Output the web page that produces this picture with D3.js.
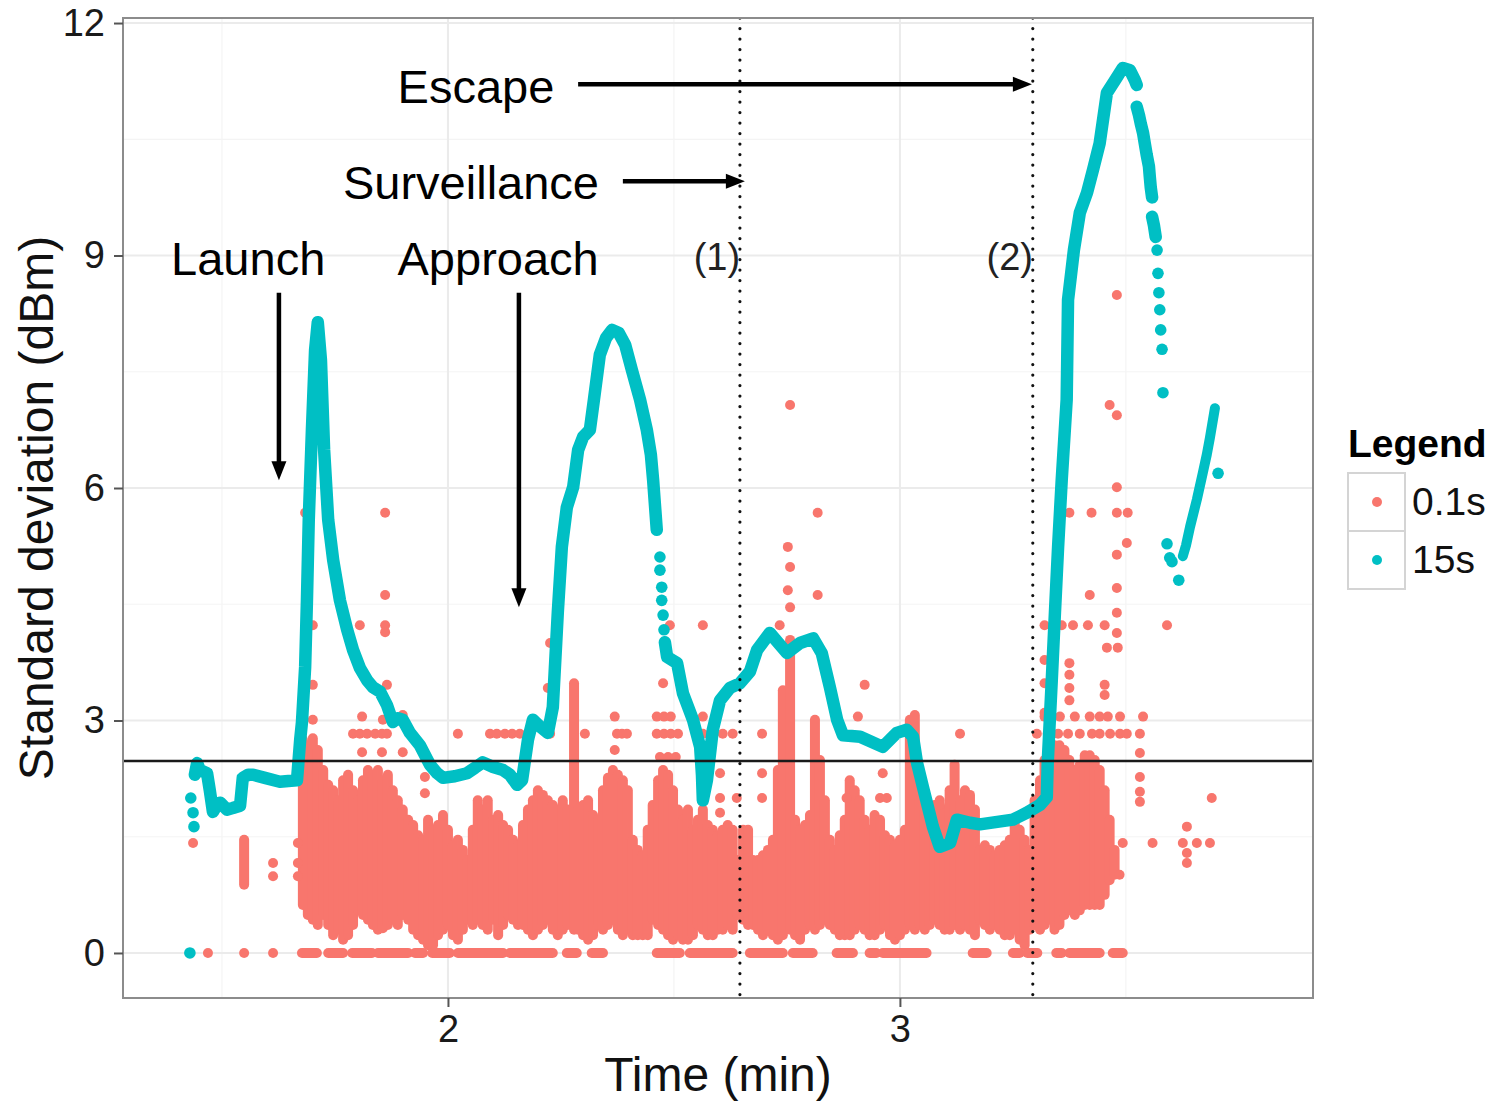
<!DOCTYPE html>
<html>
<head>
<meta charset="utf-8">
<script src="https://cdn.jsdelivr.net/npm/d3@7"></script>
<style>
body { margin: 0; background: #fff; }
svg { font-family: "Liberation Sans", Arial, Helvetica, sans-serif; }
</style>
</head>
<body>
<svg id="chart" width="1495" height="1103"></svg>
<script>
// ---- data (time in min, std dev in dBm) ----
var xTicks = [2, 3];
var xMinor = [1.5, 2.5, 3.5];
var yTicks = [0, 3, 6, 9, 12];
var yMinor = [1.5, 4.5, 7.5, 10.5];

var seriesNames = ["0.1s", "15s"];

// 15s window: continuous runs, null = break
var tealLine = [
[1.440,2.30],[1.445,2.45],[1.451,2.36],[1.467,2.32],[1.473,2.10],[1.480,1.82],[1.489,1.91],[1.496,1.94],
[1.511,1.85],[1.524,1.87],[1.540,1.90],[1.546,2.26],[1.558,2.30],[1.569,2.30],[1.595,2.26],[1.628,2.21],
[1.666,2.23],[1.673,2.75],[1.677,2.98],[1.684,3.69],[1.688,4.55],[1.692,5.59],[1.699,6.75],[1.706,7.78],
[1.712,8.14],[1.719,7.65],[1.726,6.49],[1.735,5.59],[1.746,5.07],[1.761,4.55],[1.777,4.17],[1.790,3.91],
[1.805,3.68],[1.821,3.52],[1.834,3.43],[1.850,3.37],[1.865,3.20],[1.878,2.98],[1.889,3.03],[1.900,3.01],
[1.916,2.84],[1.938,2.68],[1.960,2.43],[1.976,2.32],[1.989,2.26],[2.015,2.28],[2.042,2.32],[2.060,2.39],
[2.077,2.46],[2.100,2.40],[2.122,2.36],[2.137,2.30],[2.153,2.17],[2.164,2.23],[2.177,2.75],[2.188,3.01],
[2.204,2.92],[2.221,2.84],[2.232,3.17],[2.243,4.39],[2.252,5.24],[2.263,5.75],[2.277,6.01],[2.288,6.49],
[2.299,6.66],[2.314,6.75],[2.323,7.14],[2.336,7.72],[2.350,7.94],[2.363,8.04],[2.378,8.00],[2.392,7.85],
[2.407,7.52],[2.425,7.14],[2.440,6.75],[2.449,6.43],[2.454,6.10],[2.462,5.46],
null,
[2.480,4.01],[2.485,3.82],[2.507,3.74],[2.520,3.35],[2.542,3.01],[2.558,2.66],[2.562,2.30],[2.564,1.97],
[2.573,2.23],[2.586,2.88],[2.602,3.26],[2.624,3.42],[2.646,3.48],[2.668,3.63],[2.684,3.91],[2.712,4.13],
[2.750,3.87],[2.779,4.00],[2.808,4.06],[2.827,3.87],[2.845,3.43],[2.861,3.01],[2.874,2.81],[2.912,2.79],
[2.962,2.66],[2.993,2.84],[3.015,2.88],[3.029,2.79],[3.038,2.45],[3.051,2.14],[3.073,1.63],[3.088,1.37],
[3.111,1.42],[3.126,1.72],[3.155,1.68],[3.177,1.66],[3.250,1.72],[3.281,1.81],[3.310,1.91],[3.325,2.01],
[3.327,2.45],[3.336,3.52],[3.343,4.39],[3.350,5.24],[3.358,6.10],[3.369,7.14],[3.372,8.43],[3.385,9.07],
[3.398,9.55],[3.414,9.81],[3.427,10.10],[3.442,10.45],[3.458,11.10],[3.480,11.30],[3.493,11.42],[3.509,11.39],
[3.520,11.26],[3.524,11.20],
null,
[3.524,10.92],[3.529,10.81],[3.533,10.70],[3.538,10.58],[3.542,10.44],[3.546,10.30],[3.551,10.15],[3.553,10.01],
[3.555,9.88],[3.558,9.75],
null,
[3.558,9.50],[3.562,9.39],[3.566,9.24]
];

var tealTail = [[3.626,5.12],[3.633,5.26],[3.642,5.50],[3.657,5.85],[3.670,6.19],[3.679,6.43],[3.686,6.65],[3.697,7.03]];

var tealDots = [
[1.429,0.00],[1.431,2.00],[1.436,1.81],[1.438,1.63],
[2.469,5.11],[2.469,4.94],[2.473,4.72],[2.473,4.55],[2.476,4.36],[2.478,4.17],
[3.569,9.07],[3.571,8.77],[3.573,8.52],[3.575,8.30],[3.577,8.04],[3.580,7.79],[3.582,7.23],
[3.591,5.28],[3.597,5.10],[3.602,5.05],[3.617,4.81],[3.704,6.19]
];

// 0.1s window: dense cloud as [time, low, high]
var redColumns = [
[1.549,0.88,1.46],[1.679,0.62,2.75],[1.690,0.49,2.68],[1.701,0.43,2.77],[1.712,0.36,2.62],[1.724,0.49,2.36],
[1.735,0.36,2.17],[1.746,0.23,2.10],[1.757,0.30,1.97],[1.768,0.17,2.23],[1.779,0.23,2.30],[1.790,0.36,2.10],
[1.801,0.55,1.97],[1.812,0.49,2.23],[1.823,0.43,2.36],[1.834,0.36,2.30],[1.845,0.30,2.36],[1.856,0.32,2.23],
[1.867,0.36,2.30],[1.878,0.43,2.10],[1.889,0.36,1.97],[1.900,0.49,1.85],[1.912,0.43,1.72],[1.923,0.30,1.65],
[1.934,0.23,1.52],[1.945,0.17,1.46],[1.956,0.10,1.72],[1.967,0.10,1.59],[1.978,0.23,1.65],[1.989,0.30,1.78],
[2.000,0.36,1.59],[2.011,0.23,1.39],[2.022,0.17,1.46],[2.033,0.30,1.33],[2.044,0.43,1.20],[2.055,0.36,1.59],
[2.066,0.43,1.97],[2.077,0.36,1.85],[2.088,0.30,1.97],[2.100,0.43,1.72],[2.111,0.23,1.78],[2.122,0.36,1.65],
[2.133,0.49,1.59],[2.144,0.43,1.46],[2.155,0.36,1.39],[2.166,0.36,1.65],[2.177,0.30,1.85],[2.188,0.23,1.97],
[2.199,0.30,2.10],[2.210,0.36,2.04],[2.221,0.43,1.97],[2.232,0.30,1.91],[2.243,0.23,1.85],[2.254,0.30,1.97],
[2.265,0.36,1.85],[2.279,0.30,3.48],[2.288,0.30,1.85],[2.299,0.23,1.91],[2.310,0.17,1.97],[2.321,0.23,1.78],
[2.332,0.36,1.72],[2.343,0.30,2.10],[2.354,0.36,2.26],[2.365,0.43,2.36],[2.376,0.30,2.30],[2.387,0.23,2.23],
[2.398,0.30,2.10],[2.409,0.23,1.46],[2.420,0.23,1.33],[2.431,0.23,1.26],[2.442,0.23,1.59],[2.453,0.43,1.91],
[2.465,0.36,2.23],[2.476,0.30,2.36],[2.487,0.23,2.30],[2.498,0.17,2.10],[2.509,0.23,1.85],[2.520,0.17,1.72],
[2.531,0.17,1.85],[2.542,0.23,1.59],[2.553,0.36,1.72],[2.564,0.30,1.85],[2.575,0.23,1.65],[2.586,0.23,1.59],
[2.597,0.30,1.52],[2.608,0.30,1.59],[2.619,0.36,1.65],[2.630,0.30,1.59],[2.641,0.49,1.20],[2.653,0.43,1.59],
[2.664,0.36,1.59],[2.675,0.36,1.20],[2.686,0.30,1.20],[2.697,0.23,1.26],[2.708,0.30,1.33],[2.719,0.23,1.46],
[2.730,0.17,2.36],[2.741,0.23,3.39],[2.757,0.30,4.04],[2.768,0.23,1.72],[2.779,0.17,1.59],[2.790,0.30,1.65],
[2.801,0.36,1.78],[2.812,0.30,3.01],[2.823,0.36,2.49],[2.834,0.43,1.97],[2.845,0.36,1.46],[2.856,0.30,1.33],
[2.867,0.23,1.52],[2.878,0.23,1.72],[2.889,0.23,2.23],[2.900,0.30,2.10],[2.911,0.36,1.97],[2.922,0.30,1.72],
[2.933,0.23,1.59],[2.944,0.23,1.78],[2.956,0.30,1.72],[2.967,0.36,1.52],[2.978,0.23,1.46],[2.989,0.17,1.39],
[3.000,0.23,1.46],[3.011,0.30,1.59],[3.022,0.36,3.01],[3.033,0.30,3.07],[3.044,0.36,1.97],[3.055,0.30,1.85],
[3.066,0.36,1.78],[3.077,0.43,1.91],[3.088,0.36,1.97],[3.099,0.30,1.85],[3.110,0.30,2.10],[3.121,0.36,2.43],
[3.133,0.30,1.97],[3.144,0.36,2.10],[3.155,0.30,2.04],[3.166,0.23,1.85],[3.177,0.43,1.33],[3.188,0.36,1.39],
[3.199,0.30,1.33],[3.210,0.36,1.26],[3.221,0.30,1.33],[3.232,0.23,1.39],[3.243,0.23,1.46],[3.254,0.30,1.72],
[3.265,0.17,1.59],[3.276,0.10,1.46],[3.287,0.30,1.33],[3.298,0.36,1.97],[3.310,0.30,2.23],[3.320,0.36,2.49],
[3.331,0.43,2.55],[3.342,0.30,2.68],[3.353,0.36,2.68],[3.364,0.49,2.62],[3.375,0.55,2.49],[3.387,0.49,2.36],
[3.398,0.55,2.43],[3.409,0.62,2.55],[3.420,0.62,2.55],[3.431,0.62,2.49],[3.442,0.62,2.36],[3.453,0.75,2.10],
[3.464,0.94,1.72],[3.475,1.01,1.33]
];

// 0.1s window: runs of zero values [start, end]
var redZeroRuns = [
[1.469,1.469],[1.549,1.549],[1.613,1.613],[1.677,1.710],[1.735,1.768],[1.788,1.832],[1.845,1.912],
[1.927,1.945],[1.965,2.004],[2.022,2.122],[2.137,2.232],[2.263,2.285],[2.318,2.343],[2.462,2.513],
[2.535,2.630],[2.668,2.741],[2.763,2.807],[2.860,2.896],[2.933,2.948],[2.962,3.059],[3.161,3.192],
[3.250,3.265],[3.282,3.304],[3.346,3.358],[3.375,3.442],[3.471,3.493]
];

// 0.1s window: scattered points
var redPoints = [
[1.436,1.42],[1.613,1.16],[1.613,0.99],[1.668,1.42],[1.668,1.16],[1.668,0.99],
[1.684,5.68],[1.861,5.68],[1.690,4.62],[1.861,4.62],[1.701,4.23],[1.805,4.23],[1.861,4.23],[1.861,4.14],
[1.701,3.46],[1.865,3.46],[1.701,3.01],[1.810,3.05],[1.856,3.01],[1.900,3.07],
[1.790,2.83],[1.805,2.83],[1.821,2.83],[1.839,2.83],[1.854,2.83],[1.865,2.83],[2.022,2.83],
[2.093,2.83],[2.108,2.83],[2.126,2.83],[2.142,2.83],[2.159,2.83],
[1.810,2.59],[1.854,2.59],[1.900,2.59],[1.949,2.27],[1.949,2.06],
[2.226,4.00],[2.221,3.42],[2.491,4.23],[2.564,4.23],[2.476,3.48],[2.369,3.05],[2.369,2.62],
[2.226,2.83],[2.303,2.83],[2.374,2.83],[2.385,2.83],[2.396,2.83],
[2.462,3.05],[2.478,3.05],[2.493,3.05],[2.462,2.83],[2.478,2.83],[2.493,2.83],[2.509,2.83],
[2.469,2.53],[2.487,2.53],[2.504,2.53],
[2.564,3.05],[2.564,2.83],[2.586,2.83],[2.608,2.83],[2.630,2.83],
[2.602,2.32],[2.602,2.00],[2.639,2.00],[2.602,1.81],
[2.757,7.07],[2.818,5.68],[2.752,5.24],[2.757,4.98],[2.752,4.68],[2.757,4.46],[2.818,4.62],[2.734,4.23],
[2.922,3.46],[2.907,3.05],[3.133,2.83],[2.695,2.83],[2.695,2.32],[2.695,2.00],
[3.088,1.91],[2.962,2.32],[2.956,2.00],[2.971,2.00],[2.882,2.00],
[3.480,6.01],[3.375,5.68],[3.424,5.68],[3.480,5.68],[3.504,5.68],[3.502,5.29],[3.480,5.14],[3.480,4.71],
[3.420,4.62],[3.480,4.39],[3.480,4.13],[3.458,3.94],[3.482,3.94],
[3.320,4.23],[3.358,4.23],[3.383,4.23],[3.416,4.23],[3.453,4.23],[3.591,4.23],
[3.320,3.78],[3.375,3.74],[3.375,3.59],[3.375,3.42],[3.375,3.26],[3.320,3.48],[3.453,3.46],[3.453,3.33],[3.320,3.10],
[3.320,3.05],[3.354,3.05],[3.387,3.05],[3.420,3.05],[3.442,3.05],[3.460,3.05],[3.487,3.05],[3.538,3.05],
[3.303,2.83],[3.327,2.83],[3.350,2.83],[3.372,2.83],[3.398,2.83],[3.425,2.83],[3.442,2.83],[3.465,2.83],
[3.487,2.83],[3.502,2.83],[3.531,2.83],
[3.531,2.58],[3.531,2.27],[3.531,2.08],[3.531,1.95],
[3.690,2.00],[3.635,1.63],[3.559,1.42],[3.626,1.42],[3.657,1.42],[3.686,1.42],[3.635,1.29],[3.635,1.16],
[3.493,1.42],[3.486,1.01],
[3.480,8.49],[3.464,7.07],[3.480,6.94]
];

// reference lines
var threshold = 2.477;
var phaseLines = [2.646, 3.294];
var phaseLabels = ["(1)", "(2)"];

// annotations: label, x, y (data units)
var annoText = ["Escape", "Surveillance", "Launch", "Approach"];
var annoX = [2.062, 2.051, 1.558, 2.111];
var annoY = [10.97, 9.73, 8.75, 8.75];
// arrows: [x1, y1, x2, y2] in data units
var arrows = [
[2.288, 11.21, 3.292, 11.21],
[2.387, 9.96, 2.657, 9.96],
[1.626, 8.52, 1.626, 6.10],
[2.157, 8.52, 2.157, 4.46]
];

// ---- drawing ----
var red = "#F8766D", teal = "#00BFC4";
var pLeft = 123, pTop = 18, pRight = 1313, pBottom = 998;

var svg = d3.select("#chart");
var x = d3.scaleLinear().domain([1.281, 3.914]).range([pLeft, pRight]);
var y = d3.scaleLinear().domain([-0.581, 12.065]).range([pBottom, pTop]);

svg.append("defs").append("clipPath").attr("id", "clip")
  .append("rect").attr("x", pLeft).attr("y", pTop)
  .attr("width", pRight - pLeft).attr("height", pBottom - pTop);

// grid
var grid = svg.append("g");
grid.selectAll(".vmin").data(xMinor).join("line")
  .attr("x1", d => x(d)).attr("x2", d => x(d)).attr("y1", pTop).attr("y2", pBottom)
  .attr("stroke", "#f4f4f4").attr("stroke-width", 1.2);
grid.selectAll(".hmin").data(yMinor).join("line")
  .attr("x1", pLeft).attr("x2", pRight).attr("y1", d => y(d)).attr("y2", d => y(d))
  .attr("stroke", "#f4f4f4").attr("stroke-width", 1.2);
grid.selectAll(".vmaj").data(xTicks).join("line")
  .attr("x1", d => x(d)).attr("x2", d => x(d)).attr("y1", pTop).attr("y2", pBottom)
  .attr("stroke", "#ebebeb").attr("stroke-width", 2);
grid.selectAll(".hmaj").data(yTicks).join("line")
  .attr("x1", pLeft).attr("x2", pRight).attr("y1", d => y(d)).attr("y2", d => y(d))
  .attr("stroke", "#ebebeb").attr("stroke-width", 2);

var plot = svg.append("g").attr("clip-path", "url(#clip)");

// 0.1s points
plot.append("g").selectAll("line").data(redColumns).join("line")
  .attr("x1", d => x(d[0])).attr("x2", d => x(d[0]))
  .attr("y1", d => y(d[1])).attr("y2", d => y(d[2]))
  .attr("stroke", red).attr("stroke-width", 10).attr("stroke-linecap", "round");
plot.append("g").selectAll("line").data(redZeroRuns).join("line")
  .attr("x1", d => x(d[0])).attr("x2", d => x(d[1]))
  .attr("y1", y(0)).attr("y2", y(0))
  .attr("stroke", red).attr("stroke-width", 10).attr("stroke-linecap", "round");
plot.append("g").selectAll("circle").data(redPoints).join("circle")
  .attr("cx", d => x(d[0])).attr("cy", d => y(d[1])).attr("r", 5).attr("fill", red);

// 15s points
var line = d3.line().defined(d => d !== null).x(d => x(d[0])).y(d => y(d[1]));
plot.append("path").datum(tealLine).attr("d", line)
  .attr("fill", "none").attr("stroke", teal).attr("stroke-width", 12.5)
  .attr("stroke-linejoin", "round").attr("stroke-linecap", "round");
plot.append("path").datum(tealTail).attr("d", line)
  .attr("fill", "none").attr("stroke", teal).attr("stroke-width", 10)
  .attr("stroke-linejoin", "round").attr("stroke-linecap", "round");
plot.append("g").selectAll("circle").data(tealDots).join("circle")
  .attr("cx", d => x(d[0])).attr("cy", d => y(d[1])).attr("r", 5.8).attr("fill", teal);

// threshold + phase lines
plot.append("line").attr("x1", pLeft).attr("x2", pRight)
  .attr("y1", y(threshold)).attr("y2", y(threshold))
  .attr("stroke", "#1a1a1a").attr("stroke-width", 2.5);
plot.selectAll(".phase").data(phaseLines).join("line")
  .attr("x1", d => x(d)).attr("x2", d => x(d)).attr("y1", pTop).attr("y2", pBottom)
  .attr("stroke", "#111").attr("stroke-width", 3.2)
  .attr("stroke-dasharray", "0.1,10.4").attr("stroke-linecap", "round");

// panel border
svg.append("rect").attr("x", pLeft).attr("y", pTop)
  .attr("width", pRight - pLeft).attr("height", pBottom - pTop)
  .attr("fill", "none").attr("stroke", "#8c8c8c").attr("stroke-width", 2);

// axes
var yAxis = svg.append("g").attr("transform", "translate(" + pLeft + ",0)")
  .call(d3.axisLeft(y).tickValues(yTicks).tickFormat(d3.format("d")).tickSize(9).tickPadding(9));
var xAxis = svg.append("g").attr("transform", "translate(0," + pBottom + ")")
  .call(d3.axisBottom(x).tickValues(xTicks).tickFormat(d3.format("d")).tickSize(9).tickPadding(8));
[xAxis, yAxis].forEach(function(a) {
  a.select(".domain").remove();
  a.selectAll(".tick line").attr("stroke", "#555").attr("stroke-width", 2);
  a.selectAll(".tick text").attr("fill", "#1a1a1a").style("font-size", "38px")
    .style("font-family", "'Liberation Sans', Arial, sans-serif");
});

svg.append("text").attr("x", (pLeft + pRight) / 2).attr("y", 1091)
  .attr("text-anchor", "middle").style("font-size", "48px").attr("fill", "#111")
  .text("Time (min)");
svg.append("text").attr("transform", "translate(53," + (pTop + pBottom) / 2 + ") rotate(-90)")
  .attr("text-anchor", "middle").style("font-size", "48px").attr("fill", "#111")
  .text("Standard deviation (dBm)");

// annotations
svg.append("g").selectAll("text").data(annoText).join("text")
  .attr("x", (d, i) => x(annoX[i])).attr("y", (d, i) => y(annoY[i]))
  .attr("text-anchor", "middle").style("font-size", "47px").attr("fill", "#000")
  .text(d => d);
svg.append("g").selectAll("text").data(phaseLabels).join("text")
  .attr("x", (d, i) => x(phaseLines[i]) - 23).attr("y", y(8.81))
  .attr("text-anchor", "middle").style("font-size", "38px").attr("fill", "#222")
  .text(d => d);

var arrowG = svg.append("g");
arrows.forEach(function(a) {
  var x1 = x(a[0]), y1 = y(a[1]), x2 = x(a[2]), y2 = y(a[3]);
  var dx = x2 - x1, dy = y2 - y1, len = Math.sqrt(dx * dx + dy * dy);
  var ux = dx / len, uy = dy / len, head = 19, half = 7.5;
  arrowG.append("line").attr("x1", x1).attr("y1", y1)
    .attr("x2", x2 - ux * (head - 2)).attr("y2", y2 - uy * (head - 2))
    .attr("stroke", "#000").attr("stroke-width", 4.5);
  var bx = x2 - ux * head, by = y2 - uy * head;
  arrowG.append("path")
    .attr("d", "M" + x2 + "," + y2 + "L" + (bx - uy * half) + "," + (by + ux * half) +
      "L" + (bx + uy * half) + "," + (by - ux * half) + "Z")
    .attr("fill", "#000");
});

// legend
var leg = svg.append("g");
leg.append("text").attr("x", 1348).attr("y", 457).style("font-size", "39px")
  .style("font-weight", "bold").attr("fill", "#000").text("Legend");
var legColors = [red, teal];
seriesNames.forEach(function(name, i) {
  var ky = 473 + i * 58;
  leg.append("rect").attr("x", 1348).attr("y", ky).attr("width", 57).attr("height", 58)
    .attr("fill", "#fff").attr("stroke", "#d4d4d4").attr("stroke-width", 2);
  leg.append("circle").attr("cx", 1377).attr("cy", ky + 29).attr("r", 5).attr("fill", legColors[i]);
  leg.append("text").attr("x", 1412).attr("y", ky + 42).style("font-size", "39px")
    .attr("fill", "#111").text(name);
});
</script>
</body>
</html>
